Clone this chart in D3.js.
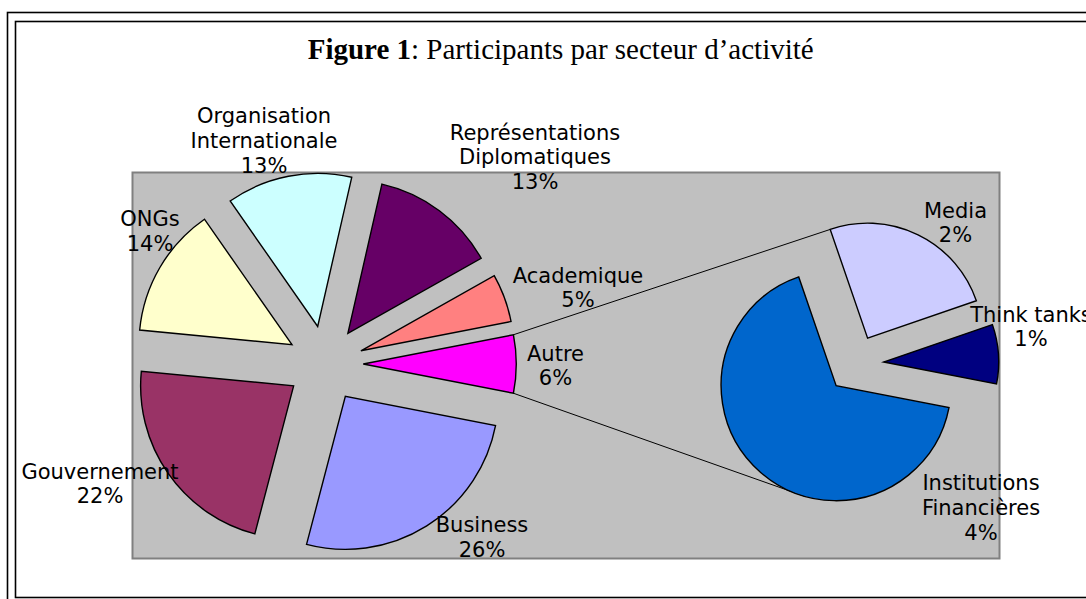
<!DOCTYPE html>
<html>
<head>
<meta charset="utf-8">
<script src="https://cdn.jsdelivr.net/npm/d3@7"></script>
<style>
  html, body { margin: 0; padding: 0; background: #fff; }
  svg { display: block; }
</style>
</head>
<body>
<div id="chart"></div>
<script>
// ---------- DATA ----------
const mainCategories = ["Business", "Gouvernement", "ONGs", "Organisation Internationale", "Représentations Diplomatiques", "Academique"];
const mainValues = [51, 44, 27, 26, 26, 10];
const otherCategory = "Autre";
const secondaryCategories = ["Institutions Financières", "Media", "Think tanks"];
const secondaryValues = [8, 3, 1];
const titleBold = "Figure 1";
const titleRest = ": Participants par secteur d\u2019activité";

// ---------- STYLE / LAYOUT ----------
const mainColors = ["#9999FF", "#993366", "#FFFFCC", "#CCFFFF", "#660066", "#FF8080"];
const otherColor = "#FF00FF";
const secondaryColors = ["#0066CC", "#CCCCFF", "#000080"];
const labelLines = {
  "Organisation Internationale": ["Organisation", "Internationale"],
  "Représentations Diplomatiques": ["Représentations", "Diplomatiques"],
  "Institutions Financières": ["Institutions", "Financières"]
};
const labelPos = {
  "Business": [482, 532],
  "Gouvernement": [100, 478.5],
  "ONGs": [150, 226],
  "Organisation Internationale": [264, 123],
  "Représentations Diplomatiques": [535, 139.5],
  "Academique": [578, 282.5],
  "Autre": [555.5, 360.5],
  "Institutions Financières": [981, 490],
  "Media": [955.5, 217.5],
  "Think tanks": [1031, 321.5]
};

const W = 1086, H = 599;
const plot = { x: 132.5, y: 172.5, w: 867, h: 386 };
const C1 = [325, 364], R1 = 153;
const C2 = [855, 364], R2 = 115;
const explode = 0.25;
const lowerConnectorDeg = 105.4; // screen angle (clockwise from 3 o'clock) on secondary slice arc
const lineH = 24.8;

const svg = d3.select("#chart").append("svg").attr("width", W).attr("height", H);

// frame (double border)
svg.append("rect").attr("x", 7.5).attr("y", 12.5).attr("width", 1200).attr("height", 700)
  .attr("fill", "none").attr("stroke", "#000").attr("stroke-width", 1.6);
svg.append("rect").attr("x", 15.5).attr("y", 21.5).attr("width", 1200).attr("height", 576)
  .attr("fill", "none").attr("stroke", "#000").attr("stroke-width", 1.6);

// title
const title = svg.append("text").attr("x", 560.7).attr("y", 59).attr("text-anchor", "middle")
  .attr("font-family", "'Liberation Serif', 'Times New Roman', serif").attr("font-size", 29).attr("fill", "#000");
title.append("tspan").attr("font-weight", "bold").text(titleBold);
title.append("tspan").text(titleRest);

// plot area
svg.append("rect").attr("x", plot.x).attr("y", plot.y).attr("width", plot.w).attr("height", plot.h)
  .attr("fill", "#C0C0C0").attr("stroke", "#808080").attr("stroke-width", 2);

// ---------- PIE LAYOUT ----------
const otherValue = d3.sum(secondaryValues);
const total = d3.sum(mainValues) + otherValue;
const pct = d3.format(".0%");

const mainData = [{ name: otherCategory, value: otherValue, color: otherColor }]
  .concat(mainCategories.map((c, i) => ({ name: c, value: mainValues[i], color: mainColors[i] })));
const otherSpan = 2 * Math.PI * otherValue / total;
const a1 = Math.PI / 2 - otherSpan / 2;
const pie1 = d3.pie().sort(null).value(d => d.value).startAngle(a1).endAngle(a1 + 2 * Math.PI);
const arcs1 = pie1(mainData);

const secData = secondaryCategories.map((c, i) => ({ name: c, value: secondaryValues[i], color: secondaryColors[i] }));
const a2 = Math.PI / 2 + otherSpan / 2;
const pie2 = d3.pie().sort(null).value(d => d.value).startAngle(a2).endAngle(a2 + 2 * Math.PI);
const arcs2 = pie2(secData);

const arc1 = d3.arc().innerRadius(0).outerRadius(R1);
const arc2 = d3.arc().innerRadius(0).outerRadius(R2);

function offset(d, r) {
  const m = (d.startAngle + d.endAngle) / 2;
  return [Math.sin(m) * r * explode, -Math.cos(m) * r * explode];
}
function pointAt(center, d, r, ang) {
  const o = offset(d, r);
  return [center[0] + o[0] + Math.sin(ang) * r, center[1] + o[1] - Math.cos(ang) * r];
}

// connectors
const autre = arcs1[0];
const media = arcs2[1];
const instFin = arcs2[0];
const pUp1 = pointAt(C1, autre, R1, autre.startAngle);
const pUp2 = pointAt(C2, media, R2, media.startAngle);
const pLo1 = pointAt(C1, autre, R1, autre.endAngle);
const pLo2 = pointAt(C2, instFin, R2, (lowerConnectorDeg + 90) * Math.PI / 180);
svg.append("line").attr("x1", pUp1[0]).attr("y1", pUp1[1]).attr("x2", pUp2[0]).attr("y2", pUp2[1])
  .attr("stroke", "#000").attr("stroke-width", 1);
svg.append("line").attr("x1", pLo1[0]).attr("y1", pLo1[1]).attr("x2", pLo2[0]).attr("y2", pLo2[1])
  .attr("stroke", "#000").attr("stroke-width", 1);

// slices
function drawPie(center, arcs, arcGen, r) {
  const g = svg.append("g").attr("transform", `translate(${center[0]},${center[1]})`);
  g.selectAll("path").data(arcs).enter().append("path")
    .attr("transform", d => { const o = offset(d, r); return `translate(${o[0]},${o[1]})`; })
    .attr("d", arcGen)
    .attr("fill", d => d.data.color)
    .attr("stroke", "#000").attr("stroke-width", 1.4).attr("stroke-linejoin", "miter");
}
drawPie(C1, arcs1, arc1, R1);
drawPie(C2, arcs2, arc2, R2);

// labels
const labels = mainData.concat(secData);
labels.forEach(d => {
  const lines = (labelLines[d.name] || [d.name]).concat([pct(d.value / total)]);
  const p = labelPos[d.name];
  const t = svg.append("text").attr("text-anchor", "middle")
    .attr("font-family", "'DejaVu Sans', Verdana, sans-serif").attr("font-size", 21).attr("fill", "#000");
  lines.forEach((ln, i) => {
    t.append("tspan").attr("x", p[0]).attr("y", p[1] + i * lineH).text(ln);
  });
});
</script>
</body>
</html>
